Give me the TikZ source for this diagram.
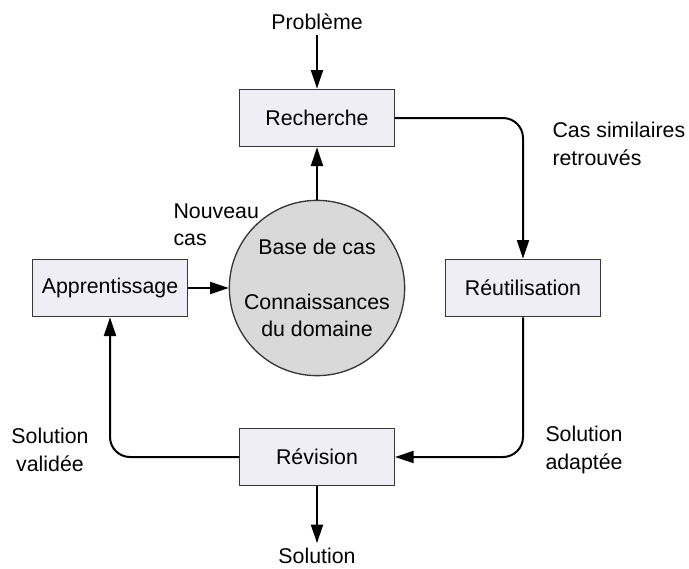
\documentclass[tikz,border=0pt]{standalone}
\usepackage{fontspec}
\setmainfont{Liberation Sans}
\usetikzlibrary{arrows.meta}
\definecolor{boxfill}{RGB}{240,238,245}
\definecolor{basefill}{RGB}{217,217,217}
\definecolor{edgegray}{RGB}{55,55,55}
\tikzset{
	stage/.style={draw=edgegray, fill=boxfill, line width=1pt, minimum width=116pt, minimum height=43pt, inner sep=0pt},
	flow/.style={line width=1.5pt, -{Triangle[length=14pt,width=9pt]}},
	note/.style={align=left, anchor=west, inner sep=0pt}}
\tikzset{every picture/.style={line width=0.75pt}}

\begin{document}
\begin{tikzpicture}[x=0.75pt,y=0.75pt,yscale=-1,xscale=1,font=\fontsize{16}{20.5}\selectfont]
	\useasboundingbox (0,0) rectangle (689,568);

	%Shape: Rectangle [id:rech]
	\node [stage] (rech) at (317,118) {Recherche};
	%Shape: Rectangle [id:reut]
	\node [stage] (reut) at (523,288) {Réutilisation};
	%Shape: Rectangle [id:rev]
	\node [stage] (rev) at (317,457) {Révision};
	%Shape: Rectangle [id:app]
	\node [stage] (app) at (110,288) {Apprentissage};
	%Shape: Circle [id:base]
	\node [draw=edgegray, fill=basefill, line width=1pt, circle, minimum size=129pt, inner sep=0pt, align=center] (base) at (317,288) {Base de cas\\[21pt]Connaissances\\du domaine};

	% Text Node
	\node (prob) at (317,22) {Problème};
	% Text Node
	\node (sol) at (317,556) {Solution};
	% Text Node
	\node [note] (nouv) at (173,225) {Nouveau\\cas};
	% Text Node
	\node [note] (simil) at (552,144) {Cas similaires\\retrouvés};
	% Text Node
	\node [note] (adapt) at (545,450) {Solution\\adaptée};
	% Text Node
	\node [align=center, inner sep=0pt] (valid) at (50,450) {Solution\\validée};

	%Straight Lines
	\draw [flow] (prob) -- (rech);
	\draw [flow] (base) -- (rech);
	\draw [flow] (app) -- (base);
	\draw [flow] (rev) -- (sol);
	%Curved Lines
	\draw [flow, rounded corners=15] (rech) -| (reut);
	\draw [flow, rounded corners=15] (reut) |- (rev);
	\draw [flow, rounded corners=15] (rev) -| (app);

\end{tikzpicture}
\end{document}
